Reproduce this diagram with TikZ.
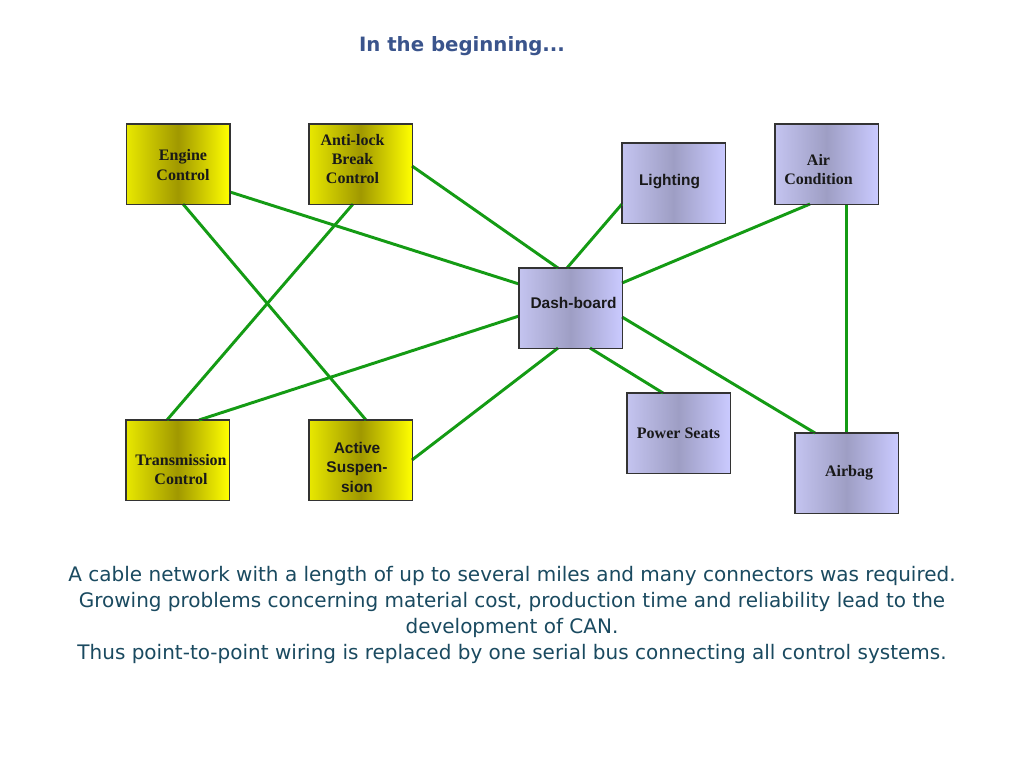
\documentclass[tikz,border=0pt]{standalone}
\usepackage{fontspec}
\setmainfont{DejaVu Sans}
\newfontfamily\boxserif{Liberation Serif}
\newfontfamily\boxsans{Liberation Sans}
\usetikzlibrary{calc}

\definecolor{wire}{RGB}{20,155,20}
\definecolor{edge}{RGB}{51,51,51}
\definecolor{titleblue}{RGB}{58,84,140}
\definecolor{bodyteal}{RGB}{26,74,96}
\definecolor{ylo}{RGB}{232,232,0}
\definecolor{ymid}{RGB}{160,152,0}
\definecolor{yhi}{RGB}{255,255,0}
\definecolor{blo}{RGB}{196,196,240}
\definecolor{bmid}{RGB}{158,158,196}
\definecolor{bhi}{RGB}{202,202,255}

\tikzset{
  unit/.style={rectangle, draw=edge, line width=0.75pt, inner sep=0pt,
    minimum width=77.25pt, minimum height=60pt},
  yellowunit/.style={unit, left color=ylo, right color=yhi, middle color=ymid},
  blueunit/.style={unit, left color=blo, right color=bhi, middle color=bmid},
  serifcap/.style={font=\boxserif\bfseries\fontsize{12}{14.6}\selectfont,
    align=center, inner sep=0pt, text=black!90},
  sanscap/.style={font=\boxsans\bfseries\fontsize{11.6}{14.6}\selectfont,
    align=center, inner sep=0pt, text=black!90},
  wirestyle/.style={draw=wire, line width=2.2pt},
}

\begin{document}
\begin{tikzpicture}[x=0.75pt, y=-0.75pt]
  \useasboundingbox (0,0) rectangle (1024,768);
  \fill[white] (0,0) rectangle (1024,768);

  % title
  \node[font=\bfseries\fontsize{14.8}{18}\selectfont, text=titleblue] (title) at (462,46) {In the beginning...};

  % control units
  \node[yellowunit] (eng)   at (178,164)   {};
  \node[yellowunit] (abs)   at (360.5,164) {};
  \node[blueunit]   (light) at (673.5,183) {};
  \node[blueunit]   (air)   at (826.5,164) {};
  \node[blueunit]   (dash)  at (570.5,308) {};
  \node[yellowunit] (trans) at (177.5,460) {};
  \node[yellowunit] (susp)  at (360.5,460) {};
  \node[blueunit]   (seats) at (678.5,433) {};
  \node[blueunit]   (bag)   at (846.5,473) {};

  % captions
  \node[serifcap] (engT)   at ([shift={(5,1)}]eng.center)     {Engine\\Control};
  \node[serifcap] (absT)   at ([shift={(-8,-5)}]abs.center)   {Anti-lock\\Break\\Control};
  \node[sanscap]  (lightT) at ([shift={(-4,-1)}]light.center) {Lighting};
  \node[serifcap] (airT)   at ([shift={(-8,5.5)}]air.center)  {Air\\Condition};
  \node[sanscap]  (dashT)  at ([shift={(3,-5)}]dash.center)   {Dash-board};
  \node[serifcap] (transT) at ([shift={(3.5,9.5)}]trans.center) {Transmission\\Control};
  \node[sanscap]  (suspT)  at ([shift={(-3.5,7)}]susp.center) {Active\\Suspen-\\sion};
  \node[serifcap] (seatsT) at (seats.center) {Power Seats};
  \node[serifcap] (bagT)   at ([shift={(2.5,0)}]bag.center)   {Airbag};

  % point-to-point wiring
  \draw[wirestyle] ([shift={(52,28)}]eng.center)    -- ([shift={(-51.5,-24)}]dash.center);
  \draw[wirestyle] ([shift={(5,40)}]eng.center)     -- ([shift={(5.5,-40)}]susp.center);
  \draw[wirestyle] ([shift={(51.5,2)}]abs.center)   -- ([shift={(-12.5,-40)}]dash.center);
  \draw[wirestyle] ([shift={(-7.5,40)}]abs.center)  -- ([shift={(-10.5,-40)}]trans.center);
  \draw[wirestyle] ([shift={(-51.5,21)}]light.center) -- ([shift={(-3.5,-40)}]dash.center);
  \draw[wirestyle] ([shift={(-16.5,40)}]air.center) -- ([shift={(51.5,-25)}]dash.center);
  \draw[wirestyle] ([shift={(20.4,40)}]air.center)  -- ([shift={(0.4,-40)}]bag.center);
  \draw[wirestyle] ([shift={(-51.5,8)}]dash.center) -- ([shift={(21.5,-40)}]trans.center);
  \draw[wirestyle] ([shift={(-12.5,40)}]dash.center) -- ([shift={(51.5,0)}]susp.center);
  \draw[wirestyle] ([shift={(19.5,40)}]dash.center) -- ([shift={(-15.5,-40)}]seats.center);
  \draw[wirestyle] ([shift={(51.5,9)}]dash.center)  -- ([shift={(-31.5,-40)}]bag.center);

  % redraw unit frames above the wire ends
  \foreach \u in {eng,abs,light,air,dash,trans,susp,seats,bag}
    \draw[edge, line width=0.75pt] (\u.south west) rectangle (\u.north east);

  % explanation
  \node[font=\fontsize{15}{19.5}\selectfont, text=bodyteal, align=center] (body) at (512,615)
    {A cable network with a length of up to several miles and many connectors was required.\\
     Growing problems concerning material cost, production time and reliability lead to the\\
     development of CAN.\\
     Thus point-to-point wiring is replaced by one serial bus connecting all control systems.};
\end{tikzpicture}
\end{document}
